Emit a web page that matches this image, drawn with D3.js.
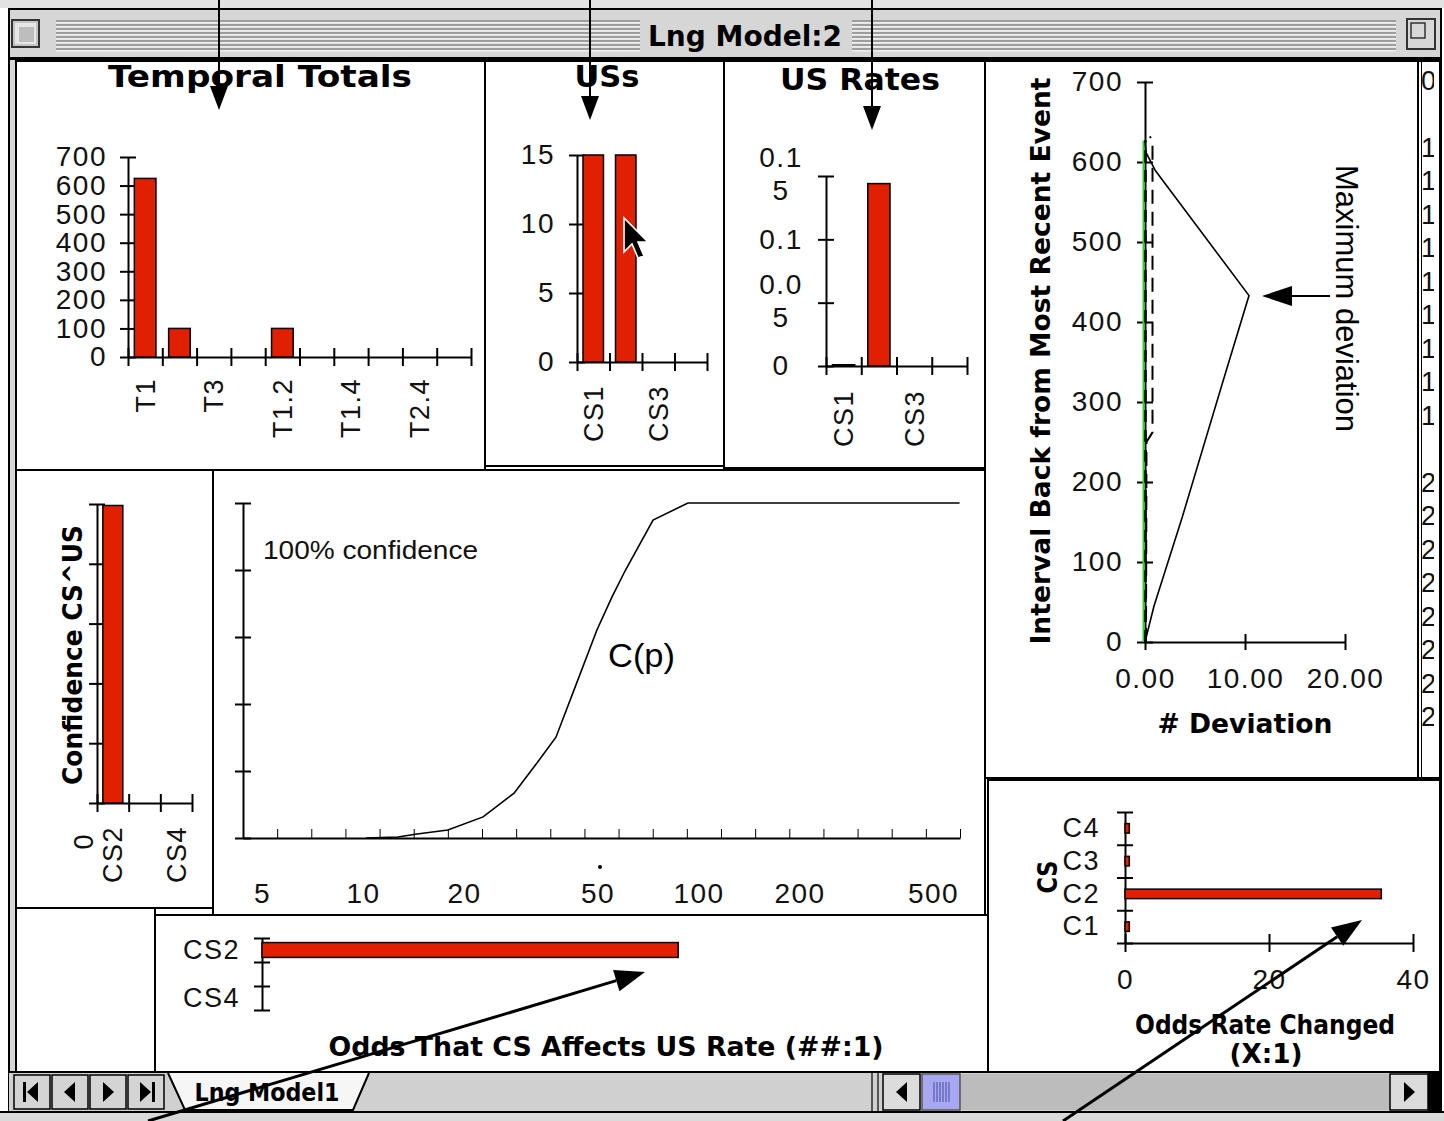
<!DOCTYPE html>
<html lang="en">
<head>
  <meta charset="utf-8">
  <title>Lng Model:2</title>
  <script src="https://cdn.jsdelivr.net/npm/d3@7/dist/d3.min.js"></script>
  <style>
    body { margin: 0; background: #fff; }
    svg { display: block; }
  </style>
</head>
<body>
  <svg id="win" width="1444" height="1121"></svg>
<script>
  //1. Data
  var temporalCats = ["T1", "T2", "T3", "T4", "T1.2", "T1.3", "T1.4", "T2.3", "T2.4", "T3.4"];
  var temporalTotals = [625, 100, 0, 0, 100, 0, 0, 0, 0, 0];
  var temporalTicks = [0, 100, 200, 300, 400, 500, 600, 700];

  var usCats = ["CS1", "CS2", "CS3", "CS4"];
  var usCounts = [15, 15, 0, 0];
  var usCountTicks = [0, 5, 10, 15];
  var usRates = [0.001, 0.144, 0, 0];
  var usRateTicks = [0, 0.05, 0.1, 0.15];

  var confCats = ["CS2", "CS3", "CS4"];
  var confValues = [0.995, 0, 0];
  var confTicks = [0, 0.2, 0.4, 0.6, 0.8, 1];

  var cpOdds = [10.2, 12.7, 14.5, 17.9, 22.8, 28.2, 33, 37.6, 43.7, 49.8, 55.2, 60.6, 73.2, 93, 600];
  var cpConf = [0, 0.003, 0.012, 0.024, 0.063, 0.134, 0.224, 0.301, 0.472, 0.621, 0.719, 0.8, 0.949, 1, 1];
  var cpOddsLabels = [5, 10, 20, 50, 100, 200, 500];
  var cpTickCount = 21;

  var devTicksY = [0, 100, 200, 300, 400, 500, 600, 700];
  var devTicksX = [0, 10, 20];
  var devGreenX = [-0.15, -0.15], devGreenY = [0, 627];
  var devDashAX = [0.05, 0.05], devDashAY = [0, 627];
  var devDashBX = [0.1, 0.15, 0.75, 0.75, 0.5], devDashBY = [0, 250, 262, 625, 632];
  var devSolidX = [0, 0.9, 3.7, 7.8, 10.4, 1.05, 0.1, 0];
  var devSolidY = [0, 45, 155, 326, 433, 589, 612, 627];

  var oddsCats = ["CS2", "CS3", "CS4"];
  var oddsValues = [667, 0, 0];

  var rateCats = ["C1", "C2", "C3", "C4"];
  var rateOdds = [0.6, 35.6, 0.6, 0.6];
  var rateTicks = [0, 20, 40];

  var stripCells = ["0", "", "1", "1", "1", "1", "1", "1", "1", "1", "1", "", "2", "2", "2", "2", "2", "2", "2", "2"];

  //2. Shared bits
  var RED = "#e02000",
      TICK_FONT = "'Liberation Sans', Arial, sans-serif",
      BOLD_FONT = "'DejaVu Sans', sans-serif";
  var svg = d3.select("#win");

  function rect(x, y, w, h, fill, stroke, sw) {
    return svg.append("rect").attr("x", x).attr("y", y).attr("width", w).attr("height", h)
      .attr("fill", fill).attr("stroke", stroke || "none").attr("stroke-width", sw || 0);
  }

  function panel(x, y, w, h) {
    return rect(x, y, w, h, "#fff", "#000", 2);
  }

  function boldText(x, y, txt, len, size, rot) {
    return svg.append("text")
      .attr("transform", "translate(" + x + "," + y + ")" + (rot ? " rotate(" + rot + ")" : ""))
      .attr("text-anchor", "middle")
      .attr("font-family", BOLD_FONT).attr("font-weight", "bold").attr("font-size", size)
      .attr("textLength", len).attr("lengthAdjust", "spacingAndGlyphs")
      .text(txt);
  }

  function styleAxis(g, dir, len) {
    g.attr("font-family", TICK_FONT).attr("font-size", 28).attr("letter-spacing", 1.5);
    g.select(".domain").attr("stroke-width", 2);
    if (len) g.selectAll(".tick line").attr(dir + "1", -len).attr(dir + "2", len).attr("stroke-width", 2);
    g.selectAll(".tick text").attr("fill", "#111");
    return g;
  }

  function arrow(x1, y1, x2, y2, L, W, sw) {
    var a = Math.atan2(y2 - y1, x2 - x1),
        bx = x2 - L * Math.cos(a), by = y2 - L * Math.sin(a);
    svg.append("line").attr("x1", x1).attr("y1", y1).attr("x2", bx).attr("y2", by)
      .attr("stroke", "#000").attr("stroke-width", sw);
    svg.append("path")
      .attr("d", "M" + x2 + "," + y2 + "L" + (bx + W * Math.sin(a)) + "," + (by - W * Math.cos(a)) +
                 "L" + (bx - W * Math.sin(a)) + "," + (by + W * Math.cos(a)) + "Z")
      .attr("fill", "#000");
  }

  // vertical columns, Excel style (ticks between categories, every other label)
  function columnChart(cats, vals, o) {
    var idx = d3.scaleLinear().domain([0, cats.length]).range([o.left, o.right]);
    var band = d3.scaleBand().domain(cats).range([o.left, o.right]).paddingInner(0.37).paddingOuter(0.185);
    var y = d3.scaleLinear().domain([0, o.max]).range([o.bottom, o.top]);

    var ya = svg.append("g").attr("transform", "translate(" + o.left + ",0)")
      .call(d3.axisLeft(y).tickValues(o.ticks).tickSizeInner(8).tickSizeOuter(0).tickPadding(o.pad).tickFormat(o.fmt));
    styleAxis(ya, "x", 8);

    var xa = svg.append("g").attr("transform", "translate(0," + o.bottom + ")")
      .call(d3.axisBottom(idx).tickValues(d3.range(cats.length + 1)).tickSizeOuter(0).tickFormat(""));
    styleAxis(xa, "y", 9);

    var la = svg.append("g").attr("transform", "translate(0," + o.bottom + ")")
      .call(d3.axisBottom(band).tickSize(0).tickFormat(function(d, i) { return i % 2 ? "" : d; }));
    la.select(".domain").remove();
    styleAxis(la);
    la.selectAll(".tick text").attr("transform", "rotate(-90)").attr("text-anchor", "end")
      .attr("x", -o.labelGap).attr("y", 0).attr("dy", "0.35em").attr("font-size", 27);

    svg.append("g").selectAll("rect").data(vals).join("rect")
      .attr("x", function(d, i) { return band(cats[i]); })
      .attr("width", band.bandwidth())
      .attr("y", function(d) { return y(d); })
      .attr("height", function(d) { return y(0) - y(d); })
      .attr("fill", RED).attr("stroke", "#000").attr("stroke-width", 1.5);
    return ya;
  }

  // horizontal bars
  function barChart(cats, vals, o) {
    var idx = d3.scaleLinear().domain([0, cats.length]).range([o.y0, o.y1]);
    var band = d3.scaleBand().domain(cats).range([o.y0, o.y1]).paddingInner(o.padIn).paddingOuter(o.padIn / 2);
    var x = d3.scaleLinear().domain([0, o.max]).range([o.left, o.right]);

    var ya = svg.append("g").attr("transform", "translate(" + o.left + ",0)")
      .call(d3.axisLeft(idx).tickValues(d3.range(cats.length + 1)).tickSizeOuter(0).tickFormat(""));
    styleAxis(ya, "x", 8);

    var la = svg.append("g").attr("transform", "translate(" + o.left + ",0)")
      .call(d3.axisLeft(band).tickSize(0).tickPadding(o.labelPad)
        .tickFormat(function(d, i) { return o.every2 && i % 2 ? "" : d; }));
    la.select(".domain").remove();
    styleAxis(la);
    la.attr("font-size", 27);

    if (o.ticks) {
      var xa = svg.append("g").attr("transform", "translate(0," + idx(0) + ")")
        .call(d3.axisBottom(x).tickValues(o.ticks).tickSizeInner(9).tickSizeOuter(0).tickPadding(17));
      styleAxis(xa, "y", 9);
    }

    svg.append("g").selectAll("rect").data(vals).join("rect")
      .attr("x", x(0))
      .attr("y", function(d, i) { return band(cats[i]); })
      .attr("height", band.bandwidth())
      .attr("width", function(d) { return x(d) - x(0); })
      .attr("fill", RED).attr("stroke", "#000").attr("stroke-width", 1.5);
  }

  //3. Window chrome
  rect(0, 0, 1444, 1121, "#fff");
  rect(0, 0, 1444, 8, "#e2e2e2");
  rect(9, 9, 1432, 1104, "#d6d6d6", "#000", 2);
  var stripeY = d3.range(21, 50, 4);
  [[56, 640], [852, 1396]].forEach(function(seg) {
    svg.append("g").selectAll("line").data(stripeY).join("line")
      .attr("x1", seg[0]).attr("x2", seg[1]).attr("y1", function(d) { return d; }).attr("y2", function(d) { return d; })
      .attr("stroke", "#8a8a8a").attr("stroke-width", 1.6);
    svg.append("g").selectAll("line").data(stripeY).join("line")
      .attr("x1", seg[0]).attr("x2", seg[1]).attr("y1", function(d) { return d + 1.8; }).attr("y2", function(d) { return d + 1.8; })
      .attr("stroke", "#f4f4f4").attr("stroke-width", 1.2);
  });
  rect(12, 20, 27, 27, "#c4c4c4", "#333", 2);
  rect(15, 23, 21, 21, "#e6e6e6");
  rect(19, 27, 15, 15, "#bdbdbd");
  rect(1407, 19, 28, 30, "#d8d8d8", "#333", 2);
  rect(1411, 23, 14, 15, "none", "#333", 1.5);
  boldText(745, 46, "Lng Model:2", 194, 28);
  rect(9, 57, 1432, 3, "#000");
  rect(16, 60, 1424, 1012, "#fff");

  //4. Chart objects
  panel(16, 61, 469, 409);
  panel(485, 61, 239, 405);
  panel(724, 61, 261, 407);
  panel(985, 61, 433, 717);
  panel(1418, 61, 22, 717);
  svg.append("line").attr("x1", 1421.5).attr("x2", 1421.5).attr("y1", 61).attr("y2", 778).attr("stroke", "#000").attr("stroke-width", 1);
  panel(16, 470, 197, 438);
  panel(213, 470, 772, 445);
  panel(16, 908, 139, 164);
  panel(155, 915, 833, 157);
  panel(988, 780, 452, 292);

  //5. Temporal Totals
  boldText(260, 87, "Temporal Totals", 304, 30);
  columnChart(temporalCats, temporalTotals, {
    left: 128, right: 471, top: 157, bottom: 357, max: 700,
    ticks: temporalTicks, fmt: d3.format("d"), pad: 13, labelGap: 21
  });

  //6. USs
  boldText(607, 87, "USs", 65, 30);
  columnChart(usCats, usCounts, {
    left: 577, right: 707, top: 155, bottom: 362, max: 15,
    ticks: usCountTicks, fmt: d3.format("d"), pad: 14, labelGap: 23
  });

  //7. US Rates (narrow labels wrap onto two lines)
  boldText(860, 90, "US Rates", 160, 30);
  var rateAxis = columnChart(usCats, usRates, {
    left: 826, right: 967, top: 176, bottom: 366, max: 0.15,
    ticks: usRateTicks, fmt: d3.format("~g"), pad: 14, labelGap: 24
  });
  rateAxis.selectAll(".tick text").each(function(d) {
    var s = d3.format("~g")(d), t = d3.select(this).text(null).attr("x", -45).attr("text-anchor", "middle");
    if (s.length > 3) {
      t.append("tspan").attr("x", -45).attr("dy", "-0.34em").text(s.slice(0, 3));
      t.append("tspan").attr("x", -45).attr("dy", "1.18em").text(s.slice(3));
    } else {
      t.text(s);
    }
  });

  // mouse pointer
  svg.append("path").attr("d", "M0,0L0,17L4,13L7,20L10,19L7,12L12,12Z")
    .attr("transform", "translate(624,218) scale(2)")
    .attr("fill", "#000").attr("stroke", "#fff").attr("stroke-width", 0.8);

  //8. Deviation chart
  var devX = d3.scaleLinear().domain([0, 20]).range([1145, 1345]);
  var devY = d3.scaleLinear().domain([0, 700]).range([642, 82]);
  styleAxis(svg.append("g").attr("transform", "translate(1145,0)")
    .call(d3.axisLeft(devY).tickValues(devTicksY).tickSizeInner(8).tickSizeOuter(0).tickPadding(14).tickFormat(d3.format("d"))), "x", 8);
  styleAxis(svg.append("g").attr("transform", "translate(0,642)")
    .call(d3.axisBottom(devX).tickValues(devTicksX).tickSizeInner(8).tickSizeOuter(0).tickPadding(18).tickFormat(d3.format(".2f"))), "y", 8);

  var devLine = d3.line().x(function(d) { return devX(d[0]); }).y(function(d) { return devY(d[1]); });
  svg.append("path").attr("d", devLine(d3.zip(devGreenX, devGreenY)))
    .attr("fill", "none").attr("stroke", "#22dd22").attr("stroke-width", 2);
  svg.append("path").attr("d", devLine(d3.zip(devDashAX, devDashAY)))
    .attr("fill", "none").attr("stroke", "#000").attr("stroke-width", 2.5).attr("stroke-dasharray", "12,8");
  svg.append("path").attr("d", devLine(d3.zip(devDashBX, devDashBY)))
    .attr("fill", "none").attr("stroke", "#000").attr("stroke-width", 2).attr("stroke-dasharray", "14,8");
  svg.append("path").attr("d", devLine(d3.zip(devSolidX, devSolidY)))
    .attr("fill", "none").attr("stroke", "#000").attr("stroke-width", 1.6);

  boldText(1050, 361, "Interval Back from Most Recent Event", 567, 27, -90);
  boldText(1245, 733, "# Deviation", 175, 27);

  svg.append("text").attr("transform", "translate(1336,165) rotate(90)")
    .attr("font-family", TICK_FONT).attr("font-size", 31).attr("fill", "#000")
    .text("Maximum deviation");

  // worksheet cells showing at the right edge
  svg.append("clipPath").attr("id", "stripClip").append("rect")
    .attr("x", 1420).attr("y", 62).attr("width", 14).attr("height", 715);
  var rowY = d3.scaleLinear().domain([0, 1]).range([80, 113.5]);
  svg.append("g").attr("clip-path", "url(#stripClip)").selectAll("text").data(stripCells).join("text")
    .attr("x", 1421).attr("y", function(d, i) { return rowY(i); }).attr("dy", "0.36em")
    .attr("font-family", TICK_FONT).attr("font-size", 27).attr("fill", "#111")
    .text(function(d) { return d; });

  //9. Confidence CS^US
  columnChart(confCats, confValues, {
    left: 97, right: 192, top: 504, bottom: 803, max: 1,
    ticks: confTicks, fmt: function() { return ""; }, pad: 6, labelGap: 23
  });
  boldText(82, 655, "Confidence CS^US", 260, 27, -90);
  svg.append("text").attr("transform", "translate(93,842) rotate(-90)").attr("text-anchor", "middle")
    .attr("font-family", TICK_FONT).attr("font-size", 27).attr("fill", "#111").text("0");

  //10. C(p) curve
  var cpX = d3.scaleLog().domain([5, 500]).range([262, 933]);
  var cpY = d3.scaleLinear().domain([0, 1]).range([838, 503]);
  var cpIdx = d3.scaleLinear().domain([0, cpTickCount]).range([243, 960]);
  styleAxis(svg.append("g").attr("transform", "translate(243,0)")
    .call(d3.axisLeft(cpY).tickValues(confTicks).tickSizeOuter(0).tickFormat("")), "x", 8);
  styleAxis(svg.append("g").attr("transform", "translate(0,838)")
    .call(d3.axisBottom(cpIdx).tickValues(d3.range(cpTickCount + 1)).tickSizeInner(-9).tickSizeOuter(0).tickFormat("")));
  var cpLab = svg.append("g").attr("transform", "translate(0,838)")
    .call(d3.axisBottom(cpX).tickValues(cpOddsLabels).tickSize(0).tickPadding(45).tickFormat(d3.format("d")));
  cpLab.select(".domain").remove();
  styleAxis(cpLab);

  svg.append("path")
    .attr("d", d3.line().x(function(d) { return cpX(d); }).y(function(d, i) { return cpY(cpConf[i]); })(cpOdds))
    .attr("fill", "none").attr("stroke", "#000").attr("stroke-width", 1.6);
  svg.append("circle").attr("cx", 600).attr("cy", 867).attr("r", 2).attr("fill", "#000");

  svg.append("text").attr("x", 263).attr("y", 559)
    .attr("font-family", TICK_FONT).attr("font-size", 25).attr("fill", "#111")
    .attr("textLength", 215).attr("lengthAdjust", "spacingAndGlyphs").text("100% confidence");
  svg.append("text").attr("x", 608).attr("y", 667)
    .attr("font-family", TICK_FONT).attr("font-size", 34).attr("fill", "#000")
    .attr("textLength", 67).attr("lengthAdjust", "spacingAndGlyphs").text("C(p)");

  //11. Odds That CS Affects US Rate
  barChart(oddsCats, oddsValues, {
    left: 262, right: 886, y0: 938, y1: 1010, max: 1000, padIn: 0.38, labelPad: 22, every2: true
  });
  boldText(606, 1056, "Odds That CS Affects US Rate (##:1)", 555, 26);

  //12. Odds Rate Changed
  barChart(rateCats, rateOdds, {
    left: 1125, right: 1413, y0: 943, y1: 812, max: 40, padIn: 0.71, labelPad: 25, ticks: rateTicks
  });
  boldText(1057, 877, "CS", 33, 27, -90);
  boldText(1265, 1034, "Odds Rate Changed", 260, 26);
  boldText(1266, 1063, "(X:1)", 73, 26);

  //13. Sheet tab bar and scroller
  rect(9, 1072, 1432, 40, "#d0d0d0");
  rect(9, 1071, 1432, 2, "#000");
  var btnX = [14, 52, 90, 128];
  svg.append("g").selectAll("rect").data(btnX).join("rect")
    .attr("x", function(d) { return d; }).attr("y", 1075).attr("width", 36).attr("height", 34)
    .attr("fill", "#d4d4d4").attr("stroke", "#000").attr("stroke-width", 1.5);
  var glyphs = [
    "M-9,-10h3v20h-3zM-5,0L6,-10V10Z",
    "M-6,0L5,-10V10Z",
    "M6,0L-5,-10V10Z",
    "M5,0L-6,-10V10ZM6,-10h3v20h-3z"
  ];
  svg.append("g").selectAll("path").data(glyphs).join("path")
    .attr("transform", function(d, i) { return "translate(" + (btnX[i] + 18) + ",1092)"; })
    .attr("d", function(d) { return d; }).attr("fill", "#000");
  svg.append("path").attr("d", "M168,1073L185,1110L353,1110L369,1073")
    .attr("fill", "#f6f6f6").attr("stroke", "#000").attr("stroke-width", 2);
  boldText(267, 1101, "Lng Model1", 145, 24);

  rect(871, 1073, 2, 38, "#555");
  rect(877, 1073, 2, 38, "#555");
  rect(883, 1074, 37, 36, "#dcdcdc", "#000", 1.5);
  svg.append("path").attr("d", "M896,1092L907,1082V1102Z").attr("fill", "#000");
  rect(960, 1074, 430, 36, "#bcbcbc");
  rect(922, 1074, 38, 36, "#a8a8f2", "#555", 1.5);
  svg.append("g").selectAll("line").data(d3.range(934, 951, 3)).join("line")
    .attr("x1", function(d) { return d; }).attr("x2", function(d) { return d; })
    .attr("y1", 1082).attr("y2", 1102).attr("stroke", "#4a4aa0").attr("stroke-width", 1);
  rect(1390, 1074, 38, 36, "#dcdcdc", "#000", 1.5);
  svg.append("path").attr("d", "M1415,1092L1404,1082V1102Z").attr("fill", "#000");
  rect(1428, 1072, 14, 40, "#000");
  rect(0, 1112, 1444, 9, "#dadada");
  rect(0, 1111, 1444, 2, "#000");

  //14. Annotation arrows
  arrow(219, 0, 219, 110, 24, 9, 2);
  arrow(590, 0, 590, 120, 24, 9, 2);
  arrow(872, 0, 872, 130, 24, 9, 2);
  arrow(1330, 296, 1262, 296, 30, 10, 2);
  arrow(148, 1121, 645, 972, 30, 11, 3);
  arrow(1063, 1121, 1362, 920, 30, 11, 3);
</script>
</body>
</html>
